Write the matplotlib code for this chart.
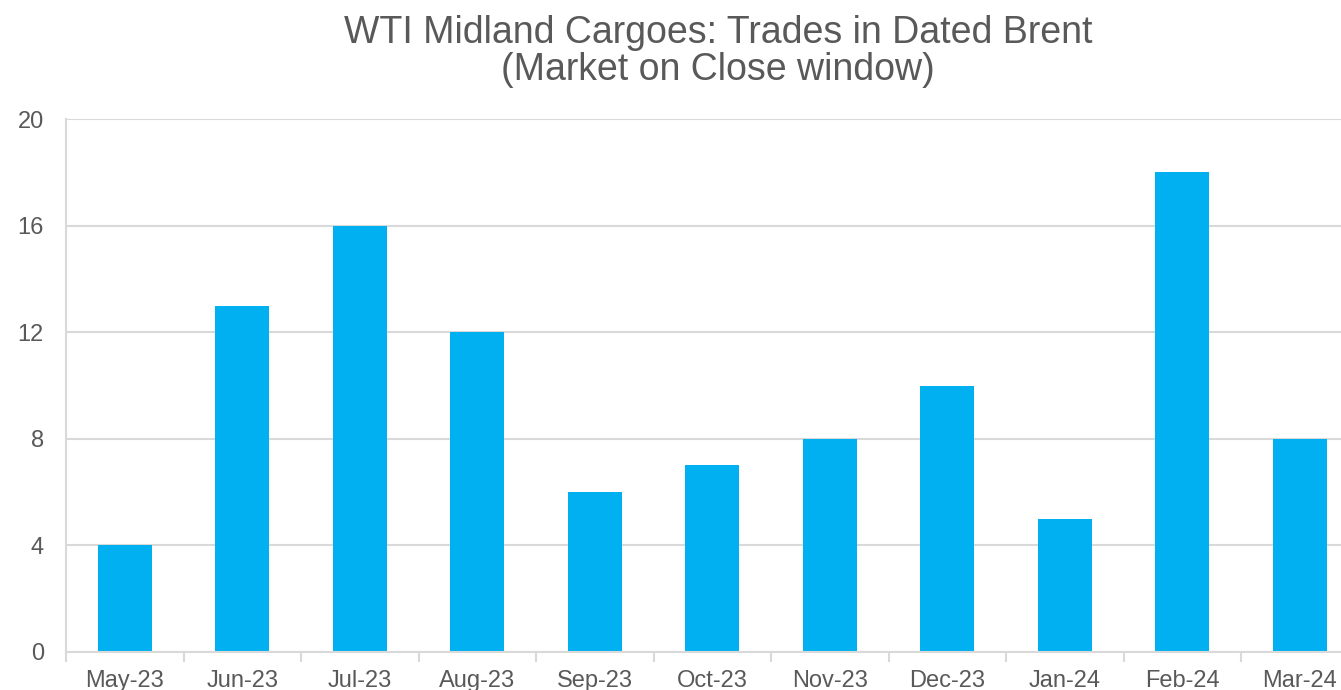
import matplotlib
matplotlib.use("Agg")
import matplotlib.pyplot as plt

# Data
months = ["May-23", "Jun-23", "Jul-23", "Aug-23", "Sep-23", "Oct-23",
          "Nov-23", "Dec-23", "Jan-24", "Feb-24", "Mar-24"]
trades = [4, 13, 16, 12, 6, 7, 8, 10, 5, 18, 8]
y_ticks = [0, 4, 8, 12, 16, 20]

plt.rcParams['font.family'] = ['Liberation Sans', 'DejaVu Sans']
grey = '#595959'

fig = plt.figure(figsize=(13.41, 6.90), dpi=100)
# plot area runs past the right edge in the original (clipped)
ax = fig.add_axes([66 / 1341, 38 / 690, 1292.5 / 1341, 533 / 690])

x = range(len(months))
ax.bar(x, trades, width=0.46, color='#00B0F0', zorder=2)

ax.set_xlim(-0.5, len(months) - 0.5)
ax.set_ylim(0, 20)
ax.set_yticks(y_ticks)
ax.set_yticklabels([str(v) for v in y_ticks])
ax.set_xticks(list(x))
ax.set_xticklabels(months)

# category boundary ticks
ax.set_xticks([i - 0.5 for i in range(len(months) + 1)], minor=True)
ax.tick_params(axis='x', which='major', length=0, pad=13, labelsize=17, labelcolor=grey)
ax.tick_params(axis='x', which='minor', length=7, width=1.5, color='#d9d9d9')
ax.tick_params(axis='y', length=0, pad=16, labelsize=17, labelcolor=grey)

ax.grid(axis='y', color='#d9d9d9', linewidth=1.5, zorder=0)
for side in ['top', 'right']:
    ax.spines[side].set_visible(False)
for side in ['left', 'bottom']:
    ax.spines[side].set_color('#d9d9d9')
    ax.spines[side].set_linewidth(1.5)

fig.text(718 / 1341, 1 - 43 / 690, "WTI Midland Cargoes: Trades in Dated Brent",
         ha='center', va='baseline', fontsize=27, color=grey)
fig.text(718 / 1341, 1 - 80 / 690, "(Market on Close window)",
         ha='center', va='baseline', fontsize=27, color=grey)

fig.savefig("out.png", dpi=100)
